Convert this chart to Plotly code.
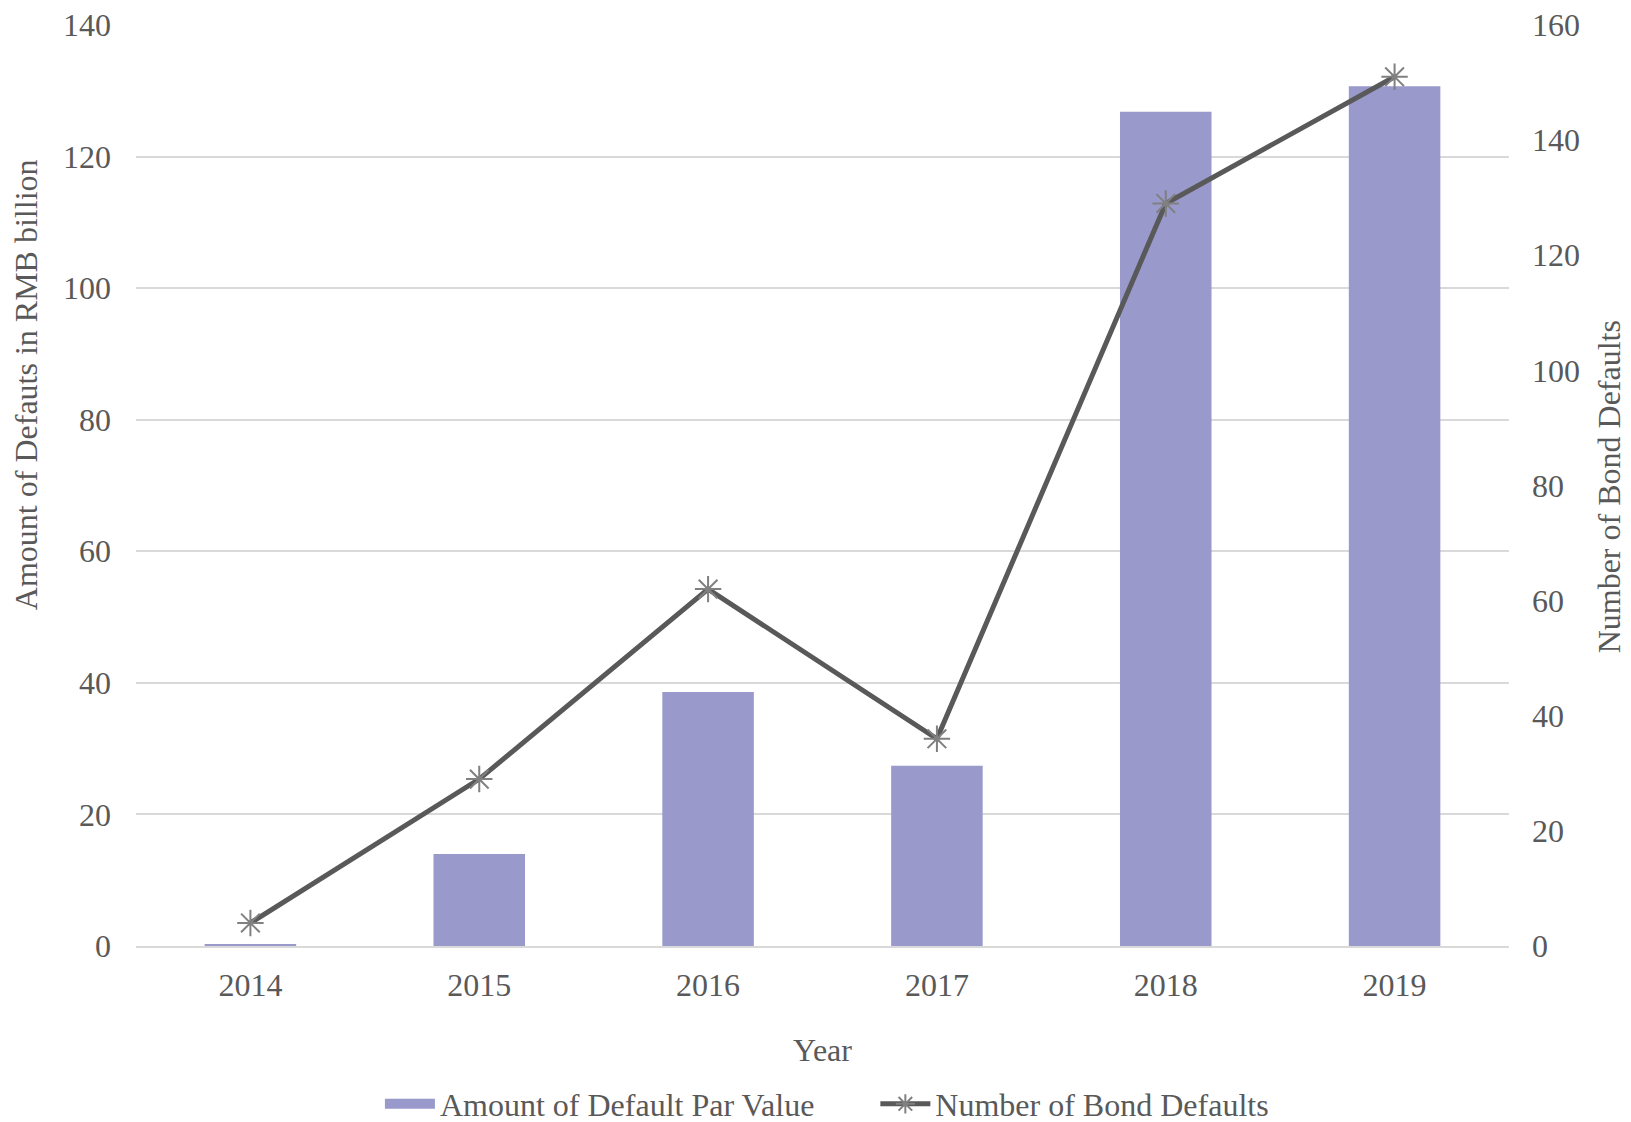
import plotly.graph_objects as go

years = ["2014", "2015", "2016", "2017", "2018", "2019"]
amount_par_value = [0.2, 14.0, 38.6, 27.4, 126.8, 130.7]
num_bond_defaults = [4, 29, 62, 36, 129, 151]

left_ticks = [0, 20, 40, 60, 80, 100, 120, 140]
right_ticks = [0, 20, 40, 60, 80, 100, 120, 140, 160]

FONT = "Liberation Serif"
FS = 32
TXT = "#595959"
GRID = "#d9d9d9"
BAR = "#9999CC"
NB = "\u00a0"

fig = go.Figure()
fig.add_trace(go.Bar(
    x=years, y=amount_par_value, name="Amount of Default Par Value",
    marker=dict(color=BAR, line=dict(width=0)), yaxis="y", showlegend=False,
))
# legend entry drawn as a wide swatch
fig.add_trace(go.Scatter(
    x=[None], y=[None], name="Amount of Default Par Value" + NB * 7, mode="lines",
    line=dict(color=BAR, width=16), yaxis="y", showlegend=True,
))
fig.add_trace(go.Scatter(
    x=years, y=num_bond_defaults, name="Number of Bond Defaults",
    mode="lines+markers", yaxis="y2",
    line=dict(color="#595959", width=5),
    marker=dict(symbol="asterisk-open", size=22, color="#808080",
                line=dict(color="#808080", width=2)),
))

fig.update_layout(
    width=1631, height=1122,
    margin=dict(l=136, r=122, t=25, b=176, autoexpand=False),
    paper_bgcolor="white", plot_bgcolor="white",
    font=dict(family=FONT, size=FS, color=TXT),
    bargap=0.6,
    showlegend=True,
    legend=dict(orientation="h", x=0.507, xanchor="center", xref="container",
                y=0.016, yanchor="middle", yref="container",
                font=dict(family=FONT, size=FS, color=TXT), itemwidth=50, tracegroupgap=0),
    xaxis=dict(type="category", showgrid=False, showline=True, linecolor=GRID, linewidth=2,
               ticks="", ticklabelstandoff=10, tickfont=dict(family=FONT, size=FS, color=TXT)),
    yaxis=dict(range=[0, 140], tickvals=left_ticks, showgrid=True, gridcolor=GRID, gridwidth=2,
               zeroline=False, ticks="", ticklabelstandoff=24,
               tickfont=dict(family=FONT, size=FS, color=TXT)),
    yaxis2=dict(range=[0, 160], tickvals=right_ticks, overlaying="y", side="right", showgrid=False,
                zeroline=False, ticks="", ticklabelstandoff=22,
                tickfont=dict(family=FONT, size=FS, color=TXT)),
    annotations=[
        dict(text="Year", x=0.5, y=-0.113, xref="paper", yref="paper", showarrow=False,
             xanchor="center", yanchor="middle", font=dict(family=FONT, size=FS, color=TXT)),
        dict(text="Amount of Defauts in RMB billion", x=-0.0801, y=0.609, xref="paper", yref="paper",
             showarrow=False, textangle=-90, xanchor="center", yanchor="middle",
             font=dict(family=FONT, size=FS, color=TXT)),
        dict(text="Number of Bond Defaults", x=1.0735, y=0.499, xref="paper", yref="paper",
             showarrow=False, textangle=-90, xanchor="center", yanchor="middle",
             font=dict(family=FONT, size=FS, color=TXT)),
    ],
)

fig.write_html("out.html")
